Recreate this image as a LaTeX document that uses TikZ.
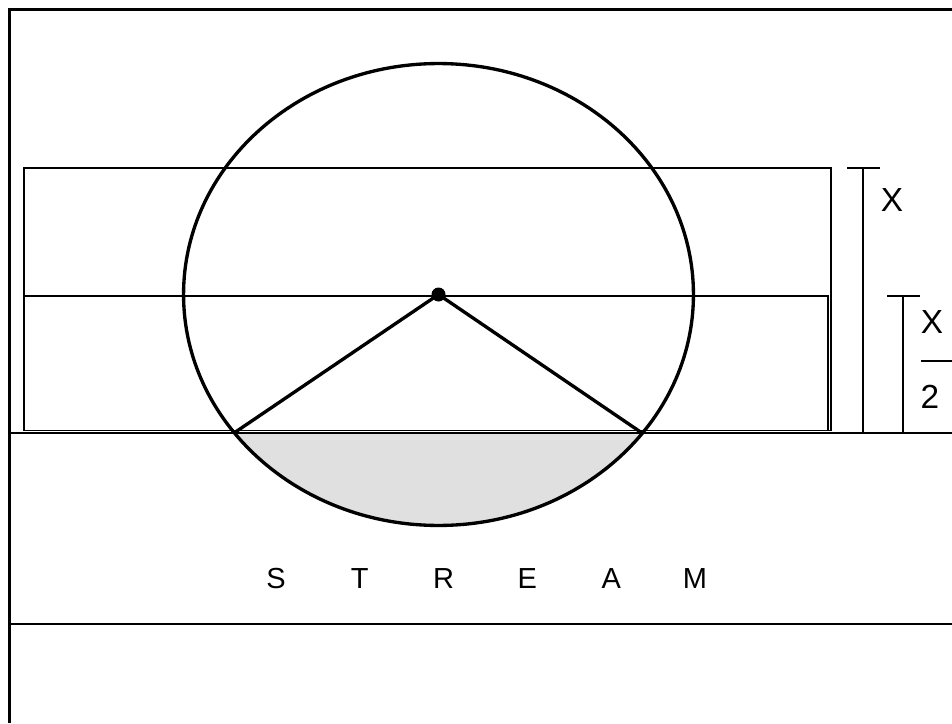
\documentclass[tikz,border=0pt]{standalone}
\usepackage{fontspec}
\setmainfont{Liberation Sans}
\usepackage{xcolor}
\usepackage{tikz}
\usetikzlibrary{positioning,calc}
\definecolor{seggray}{HTML}{E0E0E0}
\tikzset{
  thinline/.style={line width=0.6pt,draw=black},
  thickline/.style={line width=1.9pt,draw=black},
  letter/.style={font=\fontsize{16.5}{19}\selectfont,inner sep=0pt},
  dimtext/.style={font=\fontsize{19}{22}\selectfont,inner sep=0pt}
}

\begin{document}
\begin{tikzpicture}[x=0.02cm,y=-0.02cm,
  bank/.style={thinline,fill=white},
  tick/.style={thinline}
]
  \useasboundingbox (0,0) rectangle (952,723);

  % frame
  \draw[thickline,line width=2.2pt] (9.5,723) -- (9.5,9.5) -- (952,9.5);

  % banks
  \draw[bank] (24,168) rectangle (831,430.5);
  \draw[bank] (24,296) rectangle (828,430.5);
  \coordinate (gl) at (10,433);
  \coordinate (gr) at (952,433);
  \coordinate (sl) at (10,624);
  \coordinate (sr) at (952,624);
  \draw[thinline] (gl) -- (gr);
  \draw[thinline] (sl) -- (sr);

  % wheel
  \coordinate (ctr) at (438.5,294.5);
  \coordinate (pl) at (234,433);
  \coordinate (pr) at (642,433);
  \begin{scope}
    \clip (0,433) rectangle (952,723);
    \fill[seggray] (ctr) ellipse [x radius=5.1cm,y radius=4.62cm];
  \end{scope}
  \draw[thinline] (gl) -- (gr);
  \draw[thickline] (ctr) ellipse [x radius=5.1cm,y radius=4.62cm];
  \draw[thickline] (pl) -- (ctr) -- (pr);
  \fill (ctr) circle [radius=0.14cm];

  % dimensions
  \coordinate (d1t) at (863,168);
  \coordinate (d1b) at (863,433);
  \draw[tick] (d1t) -- (d1b);
  \draw[tick] (847,168) -- (880,168);
  \node[dimtext] (xa) at (892,200) {X};

  \coordinate (d2t) at (903,296);
  \coordinate (d2b) at (903,433);
  \draw[tick] (d2t) -- (d2b);
  \draw[tick] (887,296) -- (920,296);
  \node[dimtext] (xb) at (932,322) {X};
  \draw[tick] (921,361) -- (952,361);
  \node[dimtext] (xc) at (930,397) {2};

  % stream
  \foreach \ch [count=\i] in {S,T,R,E,A,M}
    \node[letter] (s\i) at ({276+83.8*(\i-1)},579) {\ch};
\end{tikzpicture}
\end{document}
